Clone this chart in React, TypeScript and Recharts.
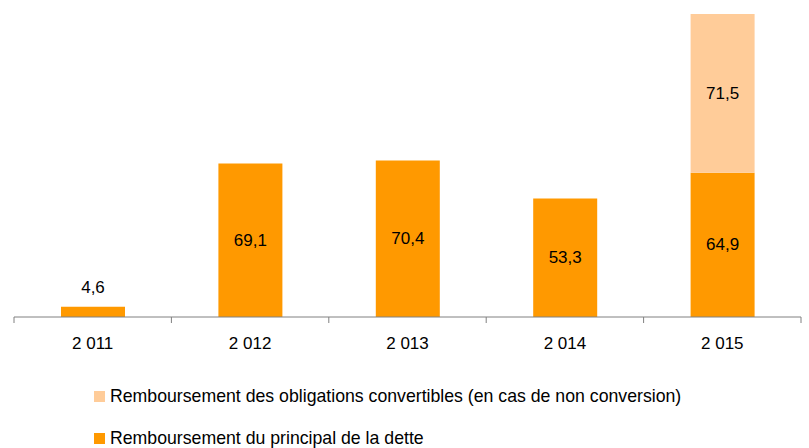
import React from 'react';
import { BarChart, Bar, XAxis, YAxis, LabelList } from 'recharts';

// années (libellés de l'axe)
const years = ['2 011', '2 012', '2 013', '2 014', '2 015'];
// remboursement du principal de la dette
const principal = [4.6, 69.1, 70.4, 53.3, 64.9];
// remboursement des obligations convertibles
const convertibles = [null, null, null, null, 71.5];

const DARK = '#FF9900';
const LIGHT = '#FFCC99';
const AXIS = '#808080';
const FONT = 'Arial, "Liberation Sans", sans-serif';

const data = years.map((year, i) => ({
  year,
  principal: principal[i],
  convertibles: convertibles[i],
}));

const fmt = (v: any) => (v == null ? '' : String(v).replace('.', ','));

const ValueLabel = (props: any) => {
  const { x, y, width, height, value } = props;
  if (value == null) return null;
  const small = height < 24;
  return (
    <text
      x={x + width / 2}
      y={small ? y - 14 : y + height / 2}
      textAnchor="middle"
      dominantBaseline={small ? 'auto' : 'central'}
      fontSize={17}
      fontFamily={FONT}
      fill="#000"
    >
      {fmt(value)}
    </text>
  );
};

// tick marks sit on the category edges, labels in the middle
const YearTick = (props: any) => {
  const { x, y, payload, index, visibleTicksCount } = props;
  const half = payload.offset || 0;
  const last = index === visibleTicksCount - 1;
  return (
    <g>
      <line x1={x - half} x2={x - half} y1={y} y2={y + 6} stroke={AXIS} />
      {last && <line x1={x + half} x2={x + half} y1={y} y2={y + 6} stroke={AXIS} />}
      <text x={x} y={y + 32} textAnchor="middle" fontSize={17} fontFamily={FONT} fill="#000">
        {payload.value}
      </text>
    </g>
  );
};

const legendItems = [
  { label: 'Remboursement des obligations convertibles (en cas de non conversion)', color: LIGHT },
  { label: 'Remboursement du principal de la dette', color: DARK },
];

const LegendBox = () => (
  <div style={{ position: 'absolute', left: 94, top: 386, fontFamily: FONT, fontSize: 17.7, color: '#000' }}>
    {legendItems.map((it) => (
      <div key={it.label} style={{ position: 'relative', height: 42, lineHeight: '20px', whiteSpace: 'nowrap' }}>
        <span
          style={{ position: 'absolute', left: 0, top: 5, width: 11, height: 11, background: it.color }}
        />
        <span style={{ position: 'absolute', left: 16, top: 0 }}>{it.label}</span>
      </div>
    ))}
  </div>
);

export default function App() {
  return (
    <div style={{ position: 'absolute', left: 0, top: 0, width: 809, height: 448, background: '#fff', overflow: 'hidden' }}>
      <BarChart
        width={809}
        height={448}
        data={data}
        margin={{ top: 14, right: 8, left: 14, bottom: 101 }}
        barSize={64}
      >
        <XAxis
          dataKey="year"
          height={30}
          tickLine={false}
          tickSize={0}
          tickMargin={0}
          axisLine={{ stroke: AXIS }}
          tick={<YearTick />}
          interval={0}
        />
        <YAxis hide domain={[0, 'dataMax']} />
        <Bar dataKey="principal" stackId="a" fill={DARK} isAnimationActive={false}>
          <LabelList dataKey="principal" content={<ValueLabel />} />
        </Bar>
        <Bar dataKey="convertibles" stackId="a" fill={LIGHT} isAnimationActive={false}>
          <LabelList dataKey="convertibles" content={<ValueLabel />} />
        </Bar>
      </BarChart>
      <LegendBox />
    </div>
  );
}
